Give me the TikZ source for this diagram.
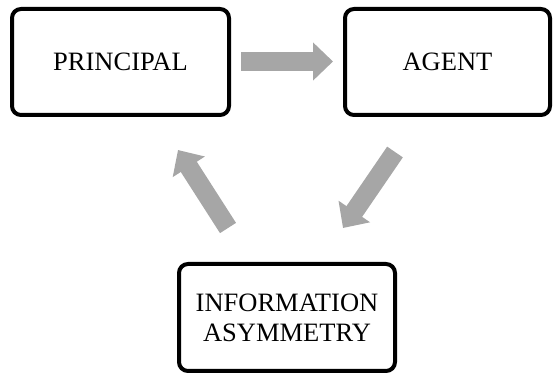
\documentclass[tikz,border=0pt]{standalone}
\usepackage{fontspec}
\setmainfont{Liberation Serif}
\newfontfamily\labelfont{Liberation Serif}
\usetikzlibrary{arrows.meta}
\begin{document}
\begin{tikzpicture}[x=1pt,y=-1pt,
  box/.style={draw=black, line width=4pt, rounded corners=9pt, fill=white,
    inner sep=0pt, align=center, font=\labelfont\fontsize{26.5}{30}\selectfont},
  blockarrow/.style={draw=arrowgray, line width=19pt,
    -{Triangle[width=37pt,length=20pt]}}]
\definecolor{arrowgray}{RGB}{166,166,166}
\useasboundingbox (0,0) rectangle (555,374);

\node[box, minimum width=217pt, minimum height=106pt] (principal) at (120.5,62) {PRINCIPAL};
\node[box, minimum width=205pt, minimum height=106pt] (agent) at (447.5,62) {AGENT};
\node[box, minimum width=216pt, minimum height=107pt] (info) at (287,317.5) {INFORMATION\\ASYMMETRY};

% block arrows between the boxes
\coordinate (pa0) at (241,61.5);
\coordinate (pa1) at (333,61.5);
\coordinate (ai0) at (395,152);
\coordinate (ai1) at (343,228);
\coordinate (ip0) at (228,228);
\coordinate (ip1) at (178,150);

\draw[blockarrow] (pa0) -- (pa1);
\draw[blockarrow] (ai0) -- (ai1);
\draw[blockarrow] (ip0) -- (ip1);
\end{tikzpicture}
\end{document}
